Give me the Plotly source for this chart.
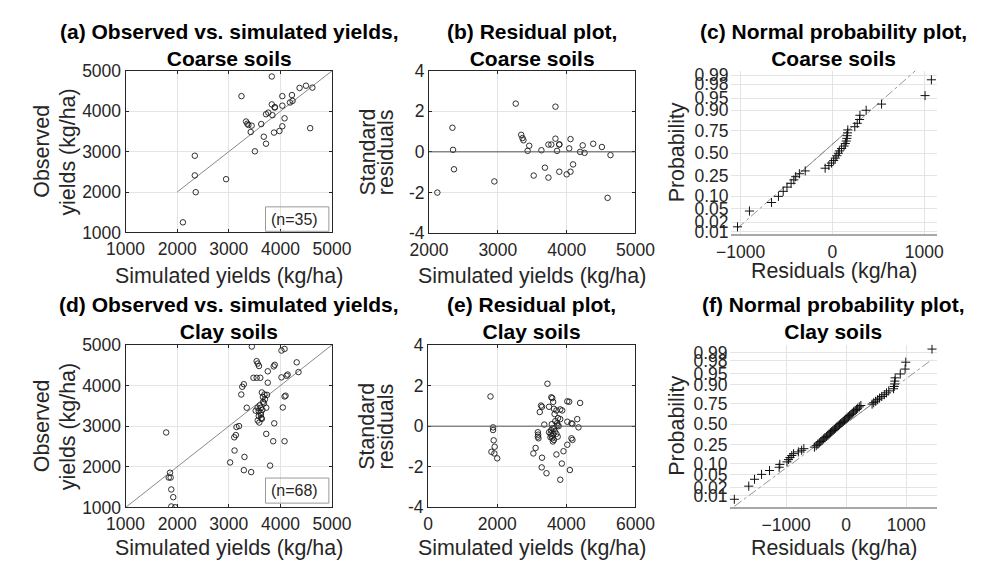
import plotly.graph_objects as go
import numpy as np
from statistics import NormalDist

# ---------------- data ----------------
# (a) Coarse soils: simulated vs observed yields (kg/ha)
coarse_sim = [2111, 2341, 2341, 2359, 2947, 3245, 3334, 3359, 3380, 3424, 3442, 3505,
              3628, 3678, 3721, 3721, 3765, 3833, 3833, 3845, 3888, 3893, 3876, 3981,
              4037, 4037, 4037, 4080, 4186, 4223, 4235, 4371, 4495, 4576, 4619]
coarse_obs = [1251, 2898, 2412, 1996, 2318, 4373, 3745, 3690, 3660, 3486, 3643, 3008,
              3682, 3369, 3196, 3925, 3965, 4859, 4169, 3902, 4090, 4100, 3471, 3510,
              4373, 4137, 3627, 3824, 4216, 4400, 4255, 4576, 4631, 3580, 4584]
coarse_one_to_one = [2000, 5000]

# (b) Coarse soils: standardised residuals vs simulated yields
coarse_res_sim = [2121, 2340, 2349, 2363, 2949, 3260, 3340, 3358, 3372, 3433, 3456, 3521,
                  3633, 3684, 3735, 3735, 3777, 3837, 3837, 3860, 3893, 3893, 3893, 4000,
                  4037, 4056, 4056, 4093, 4195, 4233, 4260, 4386, 4512, 4595, 4637]
coarse_std_res = [-2.01, 1.19, 0.10, -0.86, -1.46, 2.38, 0.84, 0.68, 0.57, 0.05, 0.30, -1.17,
                  0.08, -0.78, -1.27, 0.36, 0.36, 2.23, 0.65, 0.05, 0.36, 0.37, -0.98, -1.11,
                  0.17, 0.63, -0.98, -0.62, 0.00, 0.32, -0.05, 0.40, 0.24, -2.27, -0.16]

# (c) Coarse soils: residuals (kg/ha) for the normal probability plot
coarse_residuals = [-1034, -904, -663, -588, -536, -495, -450, -420, -400, -360, -296,
                    -79, -38, -10, 14, 31, 48, 65, 76, 100, 127, 141, 151, 158, 160, 165,
                    168, 244, 271, 296, 300, 368, 536, 1010, 1079]

# (d) Clay soils: simulated vs observed yields (kg/ha)
clay_sim = [1786, 1861, 1836, 1873, 1885, 1923, 1885, 1960,
            3025, 3111, 3105, 3136, 3149, 3198, 3241, 3260, 3291, 3291, 3303, 3433,
            3347, 3446, 3477, 3539, 3610, 3539, 3560, 3585, 3870, 3890, 3755, 4315,
            4350, 4020, 4120, 4140, 4020, 4080, 3755, 3640, 3690, 3740, 3660, 4080,
            4100, 3665, 3680, 3557, 3620, 3600, 3725, 3580, 3620, 3580, 3630, 3640,
            4046, 3880, 3725, 3860, 4080, 3800, 3560, 3590, 3650, 3700, 3520, 3620]
clay_obs = [2845, 1855, 1736, 1736, 1443, 1253, 1024, 1005,
            2108, 2401, 2726, 2781, 2979, 3003, 3779, 3969, 4032, 1918, 2243, 1871,
            3454, 4959, 4190, 4190, 4190, 4600, 4540, 4480, 4470, 4510, 4350, 4570,
            4330, 4200, 4240, 4270, 4860, 4900, 4070, 3830, 3780, 3770, 3720, 3730,
            3750, 3600, 3560, 3454, 3454, 3510, 3454, 3370, 3330, 3250, 3200, 3180,
            3460, 3070, 2810, 2630, 2630, 2030, 3140, 3090, 3400, 3660, 3380, 3280]
clay_one_to_one = [1000, 5000]

# (e) Clay soils: standardised residuals vs simulated yields
clay_res_sim = [1806, 1880, 1880, 1898, 1926, 1833, 1917, 2000,
                3454, 3565, 3593, 3620, 3268, 3296, 3231, 3500, 3639, 3713, 3824, 3880,
                4028, 4083, 4398, 3824, 4028, 4148, 4176, 4315, 4352, 3361, 3731, 3750,
                3778, 3176, 3185, 3176, 3194, 3500, 3546, 3574, 3593, 3639, 3611, 3640,
                3667, 3713, 3750, 4148, 4176, 4028, 3917, 3713, 3111, 3046, 3296, 3870,
                3287, 4102, 3426, 3824, 3560, 3600, 3580, 3620, 3680, 3660, 3760, 3540]
clay_std_res = [1.47, -0.06, -0.19, -0.70, -1.02, -1.27, -1.35, -1.59,
                2.10, 1.43, 1.39, 1.20, 1.02, 0.96, 0.70, 0.96, 0.86, 0.78, 0.83, 0.78,
                1.23, 1.21, 1.15, 0.35, 0.22, 0.14, 0.11, 0.35, -0.06, 0.08, 0.14, 0.05,
                0.00, -0.30, -0.42, -0.52, -0.60, -0.30, -0.37, -0.48, -0.60, -0.68, -0.76, -0.13,
                -0.25, -0.38, -0.52, -0.60, -0.68, -0.92, -1.24, -1.40, -1.08, -1.35, -1.56, -1.85,
                -2.04, -2.17, -2.33, -2.65, -0.20, -0.10, 0.10, -0.40, 0.25, 0.60, 0.40, -0.55]

# (f) Clay soils: residuals (kg/ha) for the normal probability plot
clay_residuals = [-1861, -1621, -1525, -1408, -1275, -1115, -1104, -985, -960, -935, -905,
                  -875, -795, -741, -704, -528, -498, -471, -446, -421, -400, -373, -352,
                  -325, -304, -283, -261, -240, -219, -197, -176, -155, -133, -112, -91,
                  -69, -48, -27, -5, 16, 37, 59, 80, 101, 123, 149, 171, 192, 219, 245,
                  432, 459, 491, 523, 555, 592, 635, 672, 709, 789, 800, 805, 811, 816,
                  901, 981, 992, 1429]

prob_ticks = [0.01, 0.02, 0.05, 0.10, 0.25, 0.50, 0.75, 0.90, 0.95, 0.98, 0.99]
prob_tick_labels = ["0.01", "0.02", "0.05", "0.10", "0.25", "0.50", "0.75",
                    "0.90", "0.95", "0.98", "0.99"]

panel_titles = ["(a) Observed vs. simulated yields,<br>Coarse soils",
                "(b) Residual plot,<br>Coarse soils",
                "(c) Normal probability plot,<br>Coarse soils",
                "(d) Observed vs. simulated yields,<br>Clay soils",
                "(e) Residual plot,<br>Clay soils",
                "(f) Normal probability plot,<br>Clay soils"]
n_labels = ["(n=35)", "(n=68)"]

# ---------------- layout geometry (pixels) ----------------
W, H = 981, 572
FONT = "Liberation Sans, Arial, Helvetica, sans-serif"
TXT = "#262626"
GRID = "#e4e4e4"

# left, right, top, bottom of each plot area in pixels
boxes = [(111, 326, 63, 230.5), (427, 642, 63, 231), (741, 956, 63, 232.5),
         (111, 326, 347, 515.5), (426, 642, 347.5, 515), (740, 956.5, 347, 515)]


def px(x):
    return x / W


def py(y):
    return 1 - y / H


fig = go.Figure()
nd = NormalDist()

# ---- (a) / (d) observed vs simulated ----
for k, (sim, obs, rng) in zip([1, 4], [(coarse_sim, coarse_obs, coarse_one_to_one),
                                       (clay_sim, clay_obs, clay_one_to_one)]):
    fig.add_trace(go.Scatter(x=rng, y=rng, mode="lines",
                             line=dict(color="#7a7a7a", width=0.9),
                             xaxis=f"x{k}", yaxis=f"y{k}", hoverinfo="skip"))
    fig.add_trace(go.Scatter(x=sim, y=obs, mode="markers",
                             marker=dict(symbol="circle-open", size=5.5,
                                         color="#1a1a1a", line=dict(width=0.9)),
                             xaxis=f"x{k}", yaxis=f"y{k}"))

# ---- (b) / (e) residual plots ----
for k, (xs, ys) in zip([2, 5], [(coarse_res_sim, coarse_std_res),
                                (clay_res_sim, clay_std_res)]):
    fig.add_shape(type="line", xref=f"x{k} domain", x0=0, x1=1,
                  yref=f"y{k}", y0=0, y1=0, line=dict(color="#555555", width=1))
    fig.add_trace(go.Scatter(x=xs, y=ys, mode="markers",
                             marker=dict(symbol="circle-open", size=5.5,
                                         color="#1a1a1a", line=dict(width=0.9)),
                             xaxis=f"x{k}", yaxis=f"y{k}"))

# ---- (c) / (f) normal probability plots ----
for k, res in zip([3, 6], [coarse_residuals, clay_residuals]):
    xs = sorted(res)
    n = len(xs)
    zs = [nd.inv_cdf((i + 0.5) / n) for i in range(n)]
    q1, q3 = np.percentile(xs, [25, 75], method="hazen")
    z1, z3 = nd.inv_cdf(0.25), nd.inv_cdf(0.75)
    slope = (z3 - z1) / (q3 - q1)
    ext_x = [xs[0], xs[-1]]
    ext_z = [z1 + slope * (v - q1) for v in ext_x]
    fig.add_trace(go.Scatter(x=ext_x, y=ext_z, mode="lines",
                             line=dict(color="#8a8a8a", width=0.9, dash="dashdot"),
                             xaxis=f"x{k}", yaxis=f"y{k}", hoverinfo="skip"))
    fig.add_trace(go.Scatter(x=[q1, q3], y=[z1, z3], mode="lines",
                             line=dict(color="#8a8a8a", width=0.9),
                             xaxis=f"x{k}", yaxis=f"y{k}", hoverinfo="skip"))
    fig.add_trace(go.Scatter(x=xs, y=zs, mode="markers",
                             marker=dict(symbol="cross-thin-open", size=6.5,
                                         color="#111111", line=dict(width=1, color="#111111")),
                             xaxis=f"x{k}", yaxis=f"y{k}"))

# ---------------- axes ----------------
box_axis = dict(showline=True, linecolor="#262626", linewidth=1, mirror="ticks",
                ticks="inside", ticklen=3, tickcolor="#262626", tickwidth=0.8,
                showgrid=True, gridcolor=GRID, gridwidth=1, zeroline=False,
                tickfont=dict(family=FONT, size=17.5, color=TXT))
prob_axis = dict(showline=False, ticks="", showgrid=True, gridcolor=GRID, gridwidth=1,
                 zeroline=False, tickfont=dict(family=FONT, size=17.5, color=TXT))

x_specs = [dict(range=[1000, 5000], tickvals=[1000, 2000, 3000, 4000, 5000]),
           dict(range=[2000, 5000], tickvals=[2000, 3000, 4000, 5000]),
           dict(range=[-1110, 1140], tickvals=[-1000, 0, 1000]),
           dict(range=[1000, 5000], tickvals=[1000, 2000, 3000, 4000, 5000]),
           dict(range=[0, 6000], tickvals=[0, 2000, 4000, 6000]),
           dict(range=[-1940, 1520], tickvals=[-1000, 0, 1000])]
prob_z = [nd.inv_cdf(p) for p in prob_ticks]
y_specs = [dict(range=[1000, 5000], tickvals=[1000, 2000, 3000, 4000, 5000]),
           dict(range=[-4, 4], tickvals=[-4, -2, 0, 2, 4], ticktext=["-4", "-2", "0", "2", "4"]),
           dict(range=[-2.414, 2.457], tickvals=prob_z, ticktext=prob_tick_labels),
           dict(range=[1000, 5000], tickvals=[1000, 2000, 3000, 4000, 5000]),
           dict(range=[-4, 4], tickvals=[-4, -2, 0, 2, 4], ticktext=["-4", "-2", "0", "2", "4"]),
           dict(range=[-2.69, 2.576], tickvals=prob_z, ticktext=prob_tick_labels)]

for i, (l, r, t, b) in enumerate(boxes):
    k = i + 1
    is_prob = k in (3, 6)
    base = prob_axis if is_prob else box_axis
    xa = dict(base, domain=[px(l), px(r)], anchor=f"y{k}", ticklabelstandoff=1, **x_specs[i])
    ya = dict(base, domain=[py(b), py(t)], anchor=f"x{k}",
              ticklabelstandoff=(1 if is_prob else 0), **y_specs[i])
    if is_prob:
        xa.update(showline=True, linecolor="#a8a8a8", linewidth=2, mirror=False)
    fig.update_layout(**{f"xaxis{k}": xa, f"yaxis{k}": ya})

# ---------------- text ----------------
ann = []
title_y = [36, 36, 36, 319.5, 319.5, 319.5]
for i, (l, r, t, b) in enumerate(boxes):
    ann.append(dict(text=f"<b>{panel_titles[i]}</b>", x=px((l + r) / 2), y=py(title_y[i]),
                    xref="paper", yref="paper", xanchor="center", yanchor="middle",
                    showarrow=False, font=dict(family=FONT, size=21, color="#000000")))

# x axis titles
xt = [("Simulated yields (kg/ha)", 276), ("Simulated yields (kg/ha)", 276),
      ("Residuals (kg/ha)", 270), ("Simulated yields (kg/ha)", 557.5),
      ("Simulated yields (kg/ha)", 557.5), ("Residuals (kg/ha)", 557.5)]
for i, (l, r, t, b) in enumerate(boxes):
    ann.append(dict(text=xt[i][0], x=px((l + r) / 2), y=py(xt[i][1]),
                    xref="paper", yref="paper", xanchor="center", yanchor="middle",
                    showarrow=False, font=dict(family=FONT, size=21.4, color=TXT)))

# y axis titles (each line placed separately)
yt = [[("Observed", 24), ("yields (kg/ha)", 51)],
      [("Standard", 363), ("residuals", 382.5)],
      [("Probability", 685)],
      [("Observed", 24), ("yields (kg/ha)", 51)],
      [("Standard", 363), ("residuals", 382.5)],
      [("Probability", 685)]]
for i, (l, r, t, b) in enumerate(boxes):
    for txt, xc in yt[i]:
        ann.append(dict(text=txt, x=px(xc), y=py((t + b) / 2), textangle=-90,
                        xref="paper", yref="paper", xanchor="center", yanchor="middle",
                        showarrow=False, font=dict(family=FONT, size=21.4, color=TXT)))

# (n=..) boxes
for j, (bt, bb) in enumerate([(204, 229.3), (485, 511)]):
    fig.add_shape(type="rect", xref="paper", yref="paper",
                  x0=px(256.7), x1=px(322.7), y0=py(bb), y1=py(bt),
                  line=dict(color="#9a9a9a", width=1), fillcolor="rgba(0,0,0,0)")
    ann.append(dict(text=n_labels[j], x=px(260), y=py((bt + bb) / 2),
                    xref="paper", yref="paper", xanchor="left", yanchor="middle",
                    showarrow=False, font=dict(family=FONT, size=16, color=TXT)))

fig.update_layout(annotations=ann, width=W, height=H, autosize=False,
                  margin=dict(l=0, r=0, t=0, b=0), showlegend=False,
                  paper_bgcolor="white", plot_bgcolor="white",
                  font=dict(family=FONT, color=TXT))

fig.write_html("out.html")
